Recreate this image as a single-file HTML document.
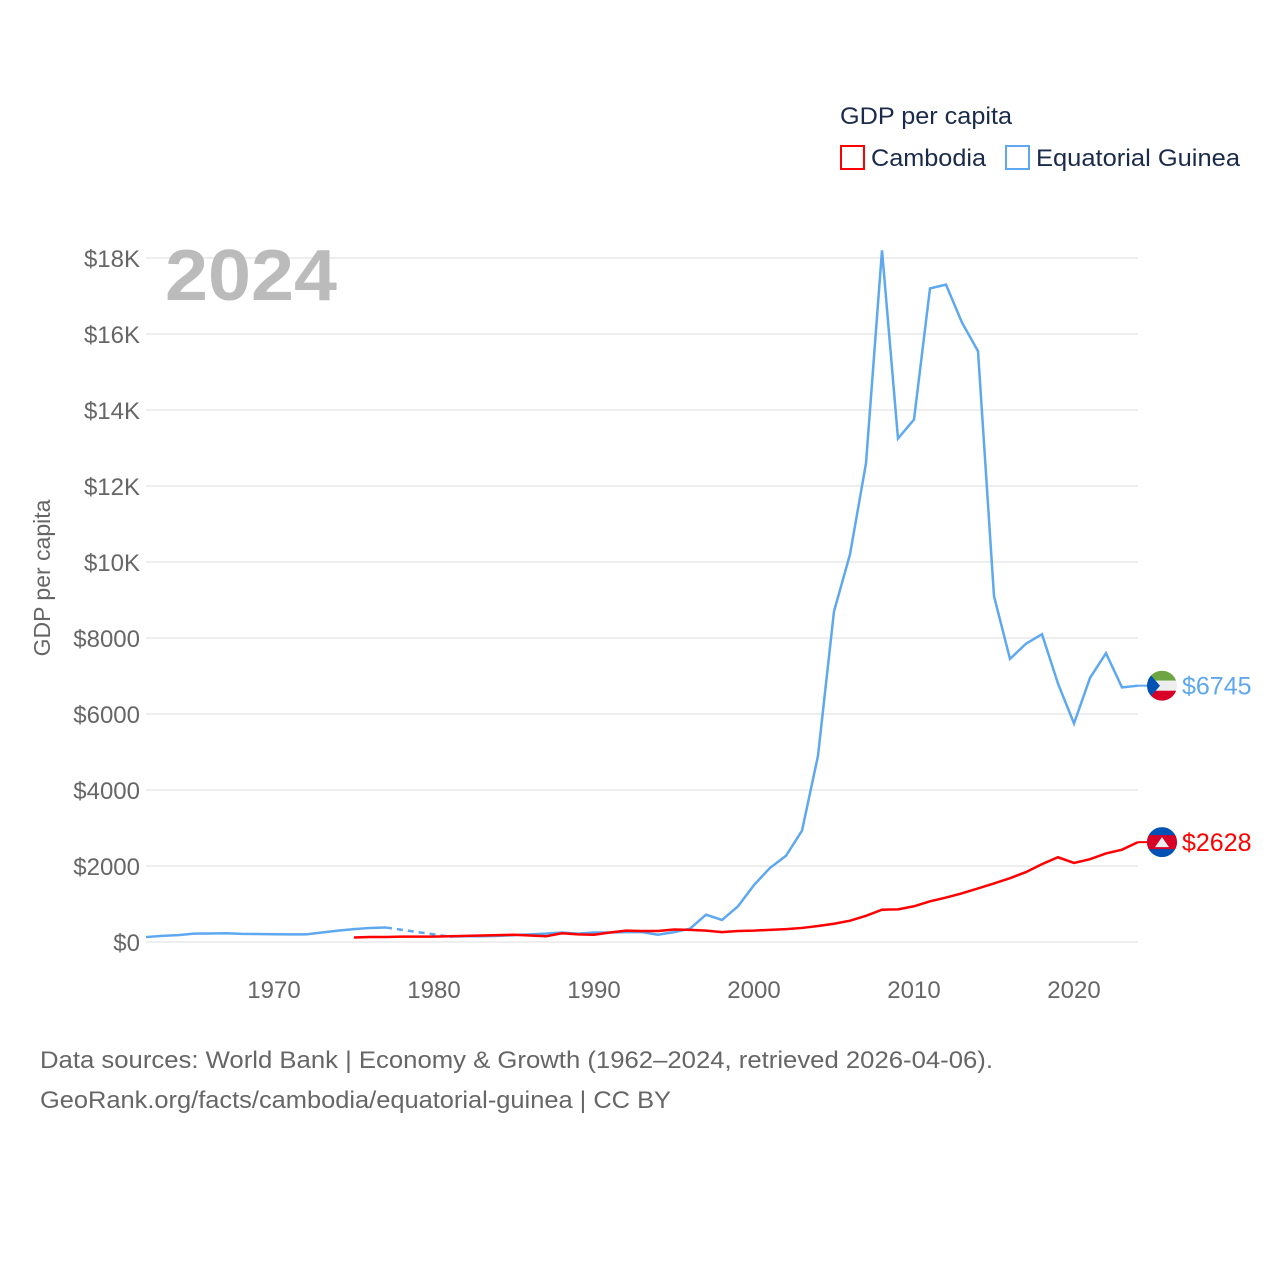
<!DOCTYPE html>
<html><head><meta charset="utf-8"><style>
body{margin:0;background:#fff;font-family:"Liberation Sans",sans-serif}
svg text{font-family:"Liberation Sans",sans-serif}
</style></head><body>
<svg width="1280" height="1280">
<text x="840" y="124" font-size="24" fill="#1a2b4a" textLength="172" lengthAdjust="spacingAndGlyphs">GDP per capita</text>
<g><rect x="841" y="146" width="23" height="23" fill="none" stroke="#f00" stroke-width="2"/><text x="871" y="166" font-size="24" fill="#1a2b4a" textLength="115" lengthAdjust="spacingAndGlyphs">Cambodia</text></g>
<g><rect x="1006" y="146" width="23" height="23" fill="none" stroke="#5ea8ef" stroke-width="2"/><text x="1036" y="166" font-size="24" fill="#1a2b4a" textLength="204" lengthAdjust="spacingAndGlyphs">Equatorial Guinea</text></g>
<g id="grid"></g>
<text x="165" y="300" font-size="72" font-weight="bold" fill="#bbb" textLength="172" lengthAdjust="spacingAndGlyphs">2024</text>
<text transform="translate(50,578) rotate(-90)" text-anchor="middle" font-size="23" fill="#666">GDP per capita</text>
<g id="marks"></g>
<text x="40" y="1068" font-size="24" fill="#666" textLength="953" lengthAdjust="spacingAndGlyphs">Data sources: World Bank | Economy &amp; Growth (1962–2024, retrieved 2026-04-06).</text>
<text x="40" y="1108" font-size="24" fill="#666" textLength="631" lengthAdjust="spacingAndGlyphs">GeoRank.org/facts/cambodia/equatorial-guinea | CC BY</text>
</svg>
<script>
const yTicks=[0,2000,4000,6000,8000,10000,12000,14000,16000,18000];
const yTickLabels=["$0","$2000","$4000","$6000","$8000","$10K","$12K","$14K","$16K","$18K"];
const xTicks=[1970,1980,1990,2000,2010,2020];
const egYearsA=[1962,1963,1964,1965,1966,1967,1968,1969,1970,1971,1972,1973,1974,1975,1976,1977];
const egValuesA=[130,160,180,220,225,230,215,210,205,200,200,250,300,340,370,380];
const egYearsB=[1981,1982,1983,1984,1985,1986,1987,1988,1989,1990,1991,1992,1993,1994,1995,1996,1997,1998,1999,2000,2001,2002,2003,2004,2005,2006,2007,2008,2009,2010,2011,2012,2013,2014,2015,2016,2017,2018,2019,2020,2021,2022,2023,2024];
const egValuesB=[140,150,150,160,180,200,220,250,220,250,250,260,260,190,260,350,720,580,940,1500,1950,2270,2930,4900,8700,10200,12600,18200,13250,13750,17200,17300,16300,15550,9100,7450,7850,8100,6800,5750,6950,7600,6700,6745];
const khYears=[];for(let y=1975;y<=2024;y++)khYears.push(y);
const khValues=[120,130,130,140,140,140,150,160,170,180,190,170,150,230,200,190,250,300,290,290,330,320,300,260,290,300,320,340,370,420,480,560,690,850,860,940,1070,1170,1280,1410,1540,1680,1840,2050,2230,2080,2180,2330,2430,2628];
const NS="http://www.w3.org/2000/svg";
const X=y=>146+(y-1962)*16;
const Y=v=>942-v*0.038;
const grid=document.getElementById('grid'),marks=document.getElementById('marks');
function mk(tag,attrs,parent){const e=document.createElementNS(NS,tag);for(const k in attrs)e.setAttribute(k,attrs[k]);parent.appendChild(e);return e;}
yTicks.forEach((v,i)=>{
 const l=mk('line',{x1:146,x2:1138,y1:Y(v),y2:Y(v),stroke:'#e8e8e8','stroke-width':1.5},grid);
 
 
 const t=mk('text',{x:140,y:Y(v)+9,'text-anchor':'end','font-size':24,fill:'#666'},grid);
 t.textContent=yTickLabels[i];
 
 
});
xTicks.forEach(y=>{
 const t=mk('text',{x:X(y),y:998,'text-anchor':'middle','font-size':24,fill:'#666'},grid);
 t.textContent=y;
 
 
});
function pts(ys,vs){return ys.map((y,i)=>X(y)+','+Y(vs[i])).join(' ');}
const a=mk('polyline',{points:pts(egYearsA,egValuesA),fill:'none',stroke:'#5ea8ef','stroke-width':2.5},marks);


const d=mk('line',{x1:X(egYearsA[egYearsA.length-1]),y1:Y(egValuesA[egValuesA.length-1]),x2:X(egYearsB[0]),y2:Y(egValuesB[0]),stroke:'#5ea8ef','stroke-width':2.5,'stroke-dasharray':'6,5'},marks);


const b=mk('polyline',{points:pts(egYearsB,egValuesB),fill:'none',stroke:'#5ea8ef','stroke-width':2.5},marks);


const c=mk('polyline',{points:pts(khYears,khValues),fill:'none',stroke:'#f00','stroke-width':2.5},marks);


function endLabel(val,col,name,kind){
 const cx=1162,cy=Y(val);
 mk('line',{x1:1138,x2:1148,y1:cy,y2:cy,stroke:col,'stroke-width':2},marks);
 const g=mk('g',{},marks);
 
 
 const cp=mk('clipPath',{id:'cp'+name},g);mk('circle',{cx:cx,cy:cy,r:15},cp);
 const inner=mk('g',{'clip-path':'url(#cp'+name+')'},g);
 if(kind==='eg'){
  mk('rect',{x:cx-15,y:cy-15,width:30,height:10,fill:'#6da544'},inner);
  mk('rect',{x:cx-15,y:cy-5,width:30,height:10,fill:'#eee'},inner);
  mk('rect',{x:cx-15,y:cy+5,width:30,height:10,fill:'#d80027'},inner);
  mk('polygon',{points:`${cx-15},${cy-15} ${cx-2},${cy} ${cx-15},${cy+15}`,fill:'#0052b4'},inner);
 }else{
  mk('rect',{x:cx-15,y:cy-15,width:30,height:30,fill:'#0052b4'},inner);
  mk('rect',{x:cx-15,y:cy-7,width:30,height:14,fill:'#d80027'},inner);
  mk('polygon',{points:`${cx-7},${cy+5} ${cx},${cy-5} ${cx+7},${cy+5}`,fill:'#eee'},inner);
 }
 const t=mk('text',{x:1182,y:cy+9,'font-size':25,fill:col},marks);
 t.textContent='$'+val;
 
 
}
endLabel(egValuesB[egValuesB.length-1],'#5ea8ef','equatorial-guinea','eg');
endLabel(khValues[khValues.length-1],'#f00','cambodia','kh');
</script>
</body></html>
